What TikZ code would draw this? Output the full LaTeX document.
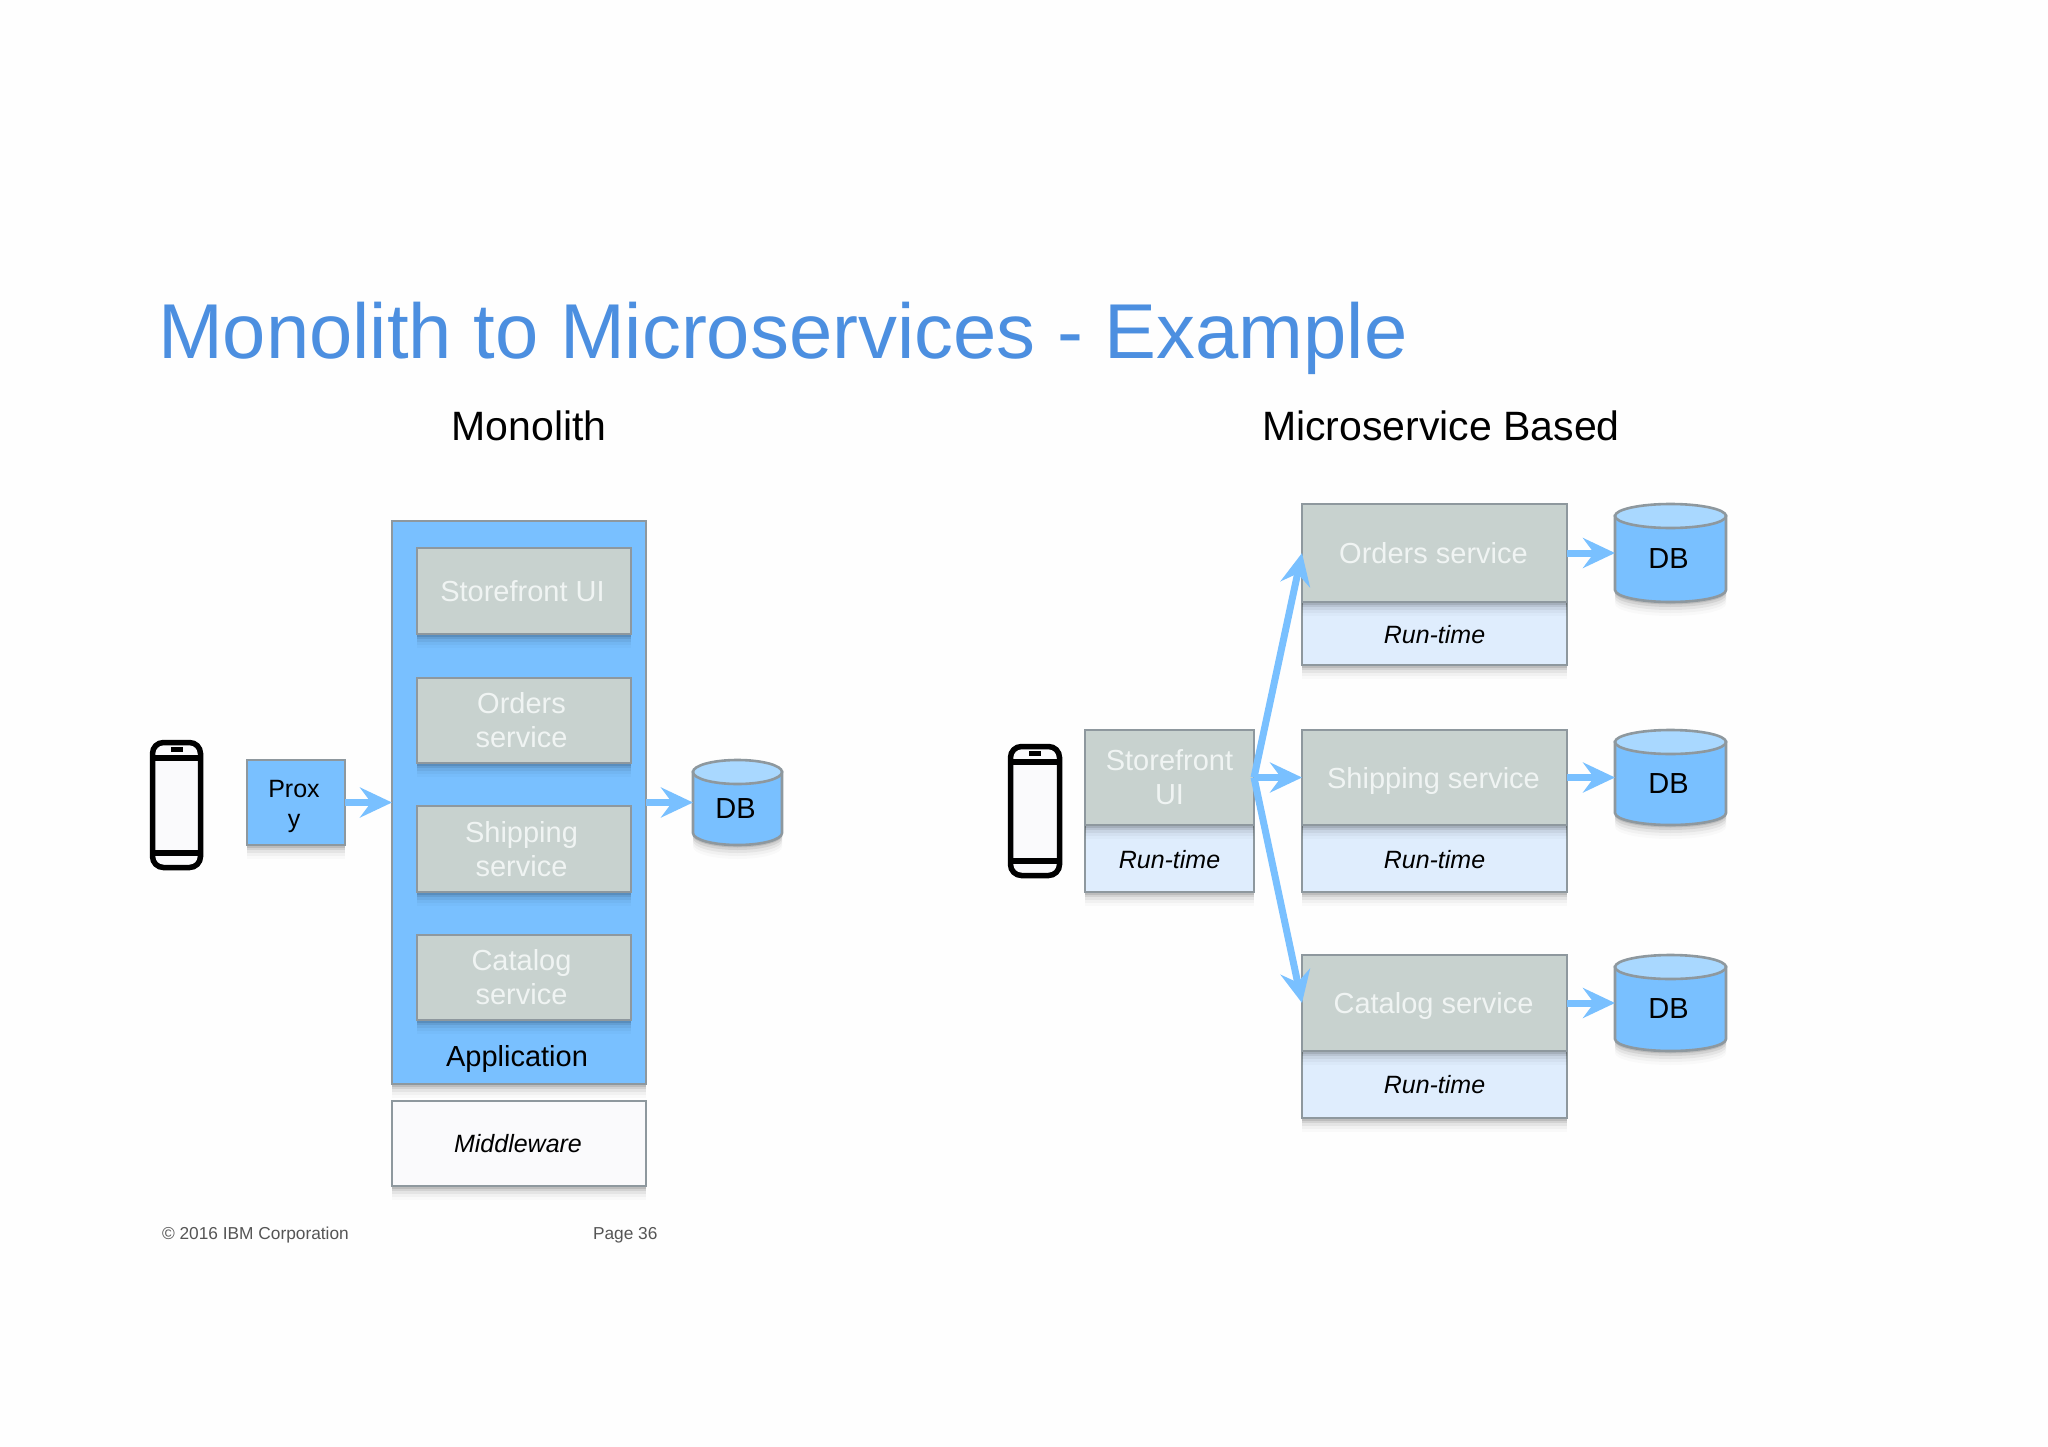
\documentclass[tikz,border=0pt]{standalone}
\usepackage{fontspec}
\setmainfont{Liberation Sans}
\usetikzlibrary{arrows.meta,shadows}
\definecolor{bluefill}{HTML}{79C0FF}
\definecolor{bluetop}{HTML}{A9D8FF}
\definecolor{grayfill}{HTML}{C8D2CF}
\definecolor{runfill}{HTML}{DFEDFD}
\definecolor{midfill}{HTML}{FAFAFC}
\definecolor{edge}{HTML}{8E989E}
\definecolor{titleblue}{HTML}{4C8FE0}
\definecolor{softwhite}{HTML}{F0F4F3}
\definecolor{foot}{HTML}{555555}
\newcommand{\dn}[2]{\raisebox{-#1pt}[\height][\depth]{#2}}
\tikzset{
  softshadow/.style={
    general shadow={shadow yshift=-14pt,fill=black,opacity=.02},
    general shadow={shadow yshift=-11pt,fill=black,opacity=.03},
    general shadow={shadow yshift=-8pt,fill=black,opacity=.05},
    general shadow={shadow yshift=-5pt,fill=black,opacity=.08},
    general shadow={shadow yshift=-2.5pt,fill=black,opacity=.10}},
  boxbase/.style={draw=edge,line width=2.6pt,inner sep=0pt,outer sep=0pt,align=center,softshadow},
  svcbox/.style={boxbase,fill=grayfill,text=softwhite,font=\fontsize{29}{34}\selectfont},
  runbox/.style={boxbase,fill=runfill,text=black,font=\fontsize{25}{30}\selectfont\itshape},
  flow/.style={draw=bluefill,line width=7pt,-{Stealth[length=32pt,width=30pt,inset=11pt]}},
  dbtext/.style={inner sep=0pt,outer sep=0pt,font=\fontsize{29}{34}\selectfont},
  lbl/.style={inner sep=0pt,outer sep=0pt,align=center},
}
% box: name, x0, y0, x1, y1, style, text
\newcommand{\bx}[7]{\node[#6,minimum width=#4pt-#2pt,minimum height=#5pt-#3pt] (#1) at ({(#2+#4)/2},{(#3+#5)/2}) {#7};}
% database cylinder: name, x0, y0, x1, y1, ry
\newcommand{\cyl}[6]{%
  \path[softshadow,draw=edge,line width=2.6pt,fill=bluefill]
    (#2,#3+#6) -- (#4,#3+#6) -- (#4,#5-#6) arc[start angle=0,end angle=180,x radius=(#4-#2)/2,y radius=#6]
    -- cycle;
  \draw[edge,line width=2.6pt,fill=bluetop] ({(#2+#4)/2},#3+#6) ellipse[x radius=(#4-#2)/2,y radius=#6];
  \node[dbtext,minimum width=#4pt-#2pt,minimum height=#5pt-#3pt] (#1) at ({(#2+#4)/2},{(#3+#5)/2}) {\dn{6}{\hspace*{-4pt}DB}};}
% phone: name, x0, y0, x1, y1
\newcommand{\phone}[5]{%
  \node[draw=black,line width=5.5pt,fill=midfill,rounded corners=11pt,inner sep=0pt,outer sep=0pt,
        minimum width=#4pt-#2pt-5pt,minimum height=#5pt-#3pt-5pt] (#1) at ({(#2+#4)/2},{(#3+#5)/2}) {};
  \fill[black] (#2+3,#3+15) rectangle (#4-3,#3+21);
  \fill[black] (#2+3,#5-20) rectangle (#4-3,#5-14);
  \fill[black] ({(#2+#4)/2-6},#3+7) rectangle ({(#2+#4)/2+6},#3+12);}
\begin{document}
\begin{tikzpicture}[x=1pt,y=-1pt]
\useasboundingbox[fill=white!99.5!black] (0,0) rectangle (2048,1447);
\node[lbl,anchor=base west,text=titleblue,font=\fontsize{77.8}{90}\selectfont] (title) at (158,358) {Monolith to Microservices - Example};
\node[lbl,text=black,font=\fontsize{41}{48}\selectfont] (mono) at (529,426) {Monolith};
\node[lbl,text=black,font=\fontsize{41}{48}\selectfont] (micro) at (1441,426) {Microservice Based};
% monolith
\phone{ph1}{150}{740}{203}{870}
\bx{proxy}{247}{760}{345}{845}{boxbase,fill=bluefill,text=black,font=\fontsize{25}{30}\selectfont}{\dn{4}{Prox\hspace*{4pt}}\\\dn{4}{y\hspace*{4pt}}}
\bx{app}{392}{521}{646}{1084}{boxbase,fill=bluefill}{}
\bx{m1}{417}{548}{631}{634}{svcbox}{Storefront UI\hspace*{3pt}}
\bx{m2}{417}{678}{631}{763}{svcbox}{\dn{0}{Orders\hspace*{5pt}}\\service\hspace*{5pt}}
\bx{m3}{417}{806}{631}{892}{svcbox}{Shipping\hspace*{5pt}\\service\hspace*{5pt}}
\bx{m4}{417}{935}{631}{1020}{svcbox}{Catalog\hspace*{5pt}\\service\hspace*{5pt}}
\node[lbl,text=black,font=\fontsize{29}{34}\selectfont] (applbl) at (517,1059) {Application};
\bx{mid}{392}{1101}{646}{1186}{boxbase,fill=midfill,text=black,font=\fontsize{25}{30}\selectfont\itshape}{Middleware\hspace*{2pt}}
\cyl{db0}{693}{760}{782}{845}{12}
\draw[flow] (proxy.east) -- (proxy.east -| app.west);
\draw[flow] (app.east |- proxy.east) -- (db0.west |- proxy.east);
\node[lbl,anchor=base west,text=foot,font=\fontsize{17.3}{20}\selectfont] (copy) at (162,1239) {© 2016 IBM Corporation};
\node[lbl,anchor=base west,text=foot,font=\fontsize{17.3}{20}\selectfont] (page) at (593,1239) {Page 36};
% microservices
\phone{ph2}{1008}{744}{1062}{878}
\bx{sfrun}{1085}{825}{1254}{892}{runbox}{\dn{1.5}{Run-time}}
\bx{sf}{1085}{730}{1254}{825}{svcbox}{Storefront\\UI}
\bx{r1}{1302}{602}{1567}{665}{runbox}{\dn{1.5}{Run-time}}
\bx{s1}{1302}{504}{1567}{602}{svcbox}{Orders service\hspace*{2pt}}
\bx{r2}{1302}{825}{1567}{892}{runbox}{\dn{1.5}{Run-time}}
\bx{s2}{1302}{730}{1567}{825}{svcbox}{\dn{3}{Shipping service\hspace*{2pt}}}
\bx{r3}{1302}{1051}{1567}{1118}{runbox}{Run-time}
\bx{s3}{1302}{955}{1567}{1051}{svcbox}{\dn{3}{Catalog service\hspace*{2pt}}}
\cyl{db1}{1615}{504}{1726}{602}{12}
\cyl{db2}{1615}{730}{1726}{825}{12}
\cyl{db3}{1615}{955}{1726}{1051}{12}
\draw[flow] (sf.east) -- (s1.west);
\draw[flow] (sf.east) -- (s2.west);
\draw[flow] (sf.east) -- (s3.west);
\draw[flow] (s1.east) -- (db1.west |- s1.east);
\draw[flow] (s2.east) -- (db2.west |- s2.east);
\draw[flow] (s3.east) -- (db3.west |- s3.east);
\end{tikzpicture}
\end{document}
